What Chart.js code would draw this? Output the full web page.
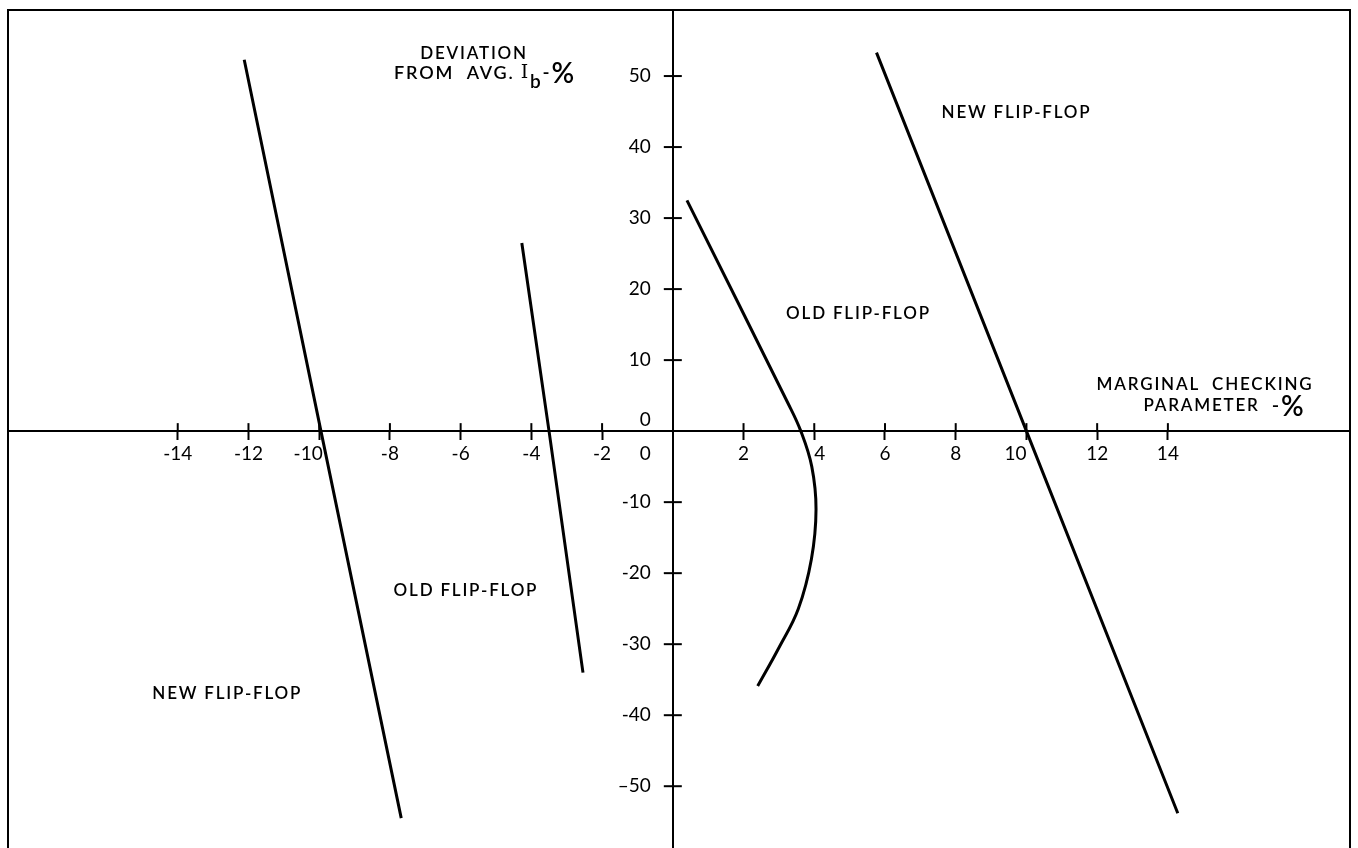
<!DOCTYPE html>
<html>
<head>
<meta charset="utf-8">
<script src="https://cdn.jsdelivr.net/npm/chart.js@4.4.1/dist/chart.umd.min.js"></script>
<style>
  html, body { margin: 0; padding: 0; background: #fff; }
  #wrap { width: 1358px; height: 848px; position: relative; }
</style>
</head>
<body>
<div id="wrap"><canvas id="myChart"></canvas></div>
<script>
// ticks on both axes
var xTicks = [-14, -12, -10, -8, -6, -4, -2, 0, 2, 4, 6, 8, 10, 12, 14];
var yTicks = [-50, -40, -30, -20, -10, 0, 10, 20, 30, 40, 50];

// curves: x = marginal checking parameter %, y = deviation from avg Ib %
var newLeftX = [-12.12, -9.95, -7.68];
var newLeftY = [52.3, 0, -54.5];
var oldLeftX = [-4.27, -3.5, -2.54];
var oldLeftY = [26.5, 0, -34];
var oldRightX = [0.4, 3.25, 3.62, 3.93, 4.05, 3.92, 3.55, 3.0, 2.4];
var oldRightY = [32.5, 4, 0, -5, -11, -18, -25, -30.5, -35.9];
var newRightX = [5.76, 10.0, 14.28];
var newRightY = [53.3, 0, -53.8];

var FONT = "Lato, 'Noto Sans', sans-serif";
var FS = "\u2007"; // figure space, used to nudge a few tick labels

function pts(xs, ys) {
  return xs.map(function (x, i) { return { x: x, y: ys[i] }; });
}
function curve(xs, ys, tension) {
  return {
    data: pts(xs, ys),
    showLine: true,
    borderColor: "#000",
    borderWidth: 3,
    pointRadius: 0,
    tension: tension,
    fill: false
  };
}
function noPad(s) {
  s.paddingTop = 0; s.paddingBottom = 0; s.paddingLeft = 0; s.paddingRight = 0;
}

// frame round the plot + the other half of each tick mark
var framePlugin = {
  id: "frame",
  afterDraw: function (chart) {
    var ctx = chart.ctx, a = chart.chartArea;
    var xs = chart.scales.x, ys = chart.scales.y;
    var x0 = xs.getPixelForValue(0), y0 = ys.getPixelForValue(0);
    ctx.save();
    ctx.strokeStyle = "#000";
    ctx.lineWidth = 2;
    ctx.beginPath();
    ctx.moveTo(a.left, a.bottom);
    ctx.lineTo(a.left, a.top);
    ctx.lineTo(a.right, a.top);
    ctx.lineTo(a.right, a.bottom);
    ctx.stroke();
    xTicks.forEach(function (v) {
      if (v === 0) return;
      var px = xs.getPixelForValue(v);
      ctx.beginPath(); ctx.moveTo(px, y0); ctx.lineTo(px, y0 - 8); ctx.stroke();
    });
    yTicks.forEach(function (v) {
      if (v === 0) return;
      var py = ys.getPixelForValue(v);
      ctx.beginPath(); ctx.moveTo(x0 - 9, py); ctx.lineTo(x0 + 9, py); ctx.stroke();
    });
    ctx.restore();
  }
};

// text notes, placed in data units
var notesPlugin = {
  id: "notes",
  afterDraw: function (chart, args, opts) {
    var ctx = chart.ctx, xs = chart.scales.x, ys = chart.scales.y;
    ctx.save();
    ctx.fillStyle = "#000";
    ctx.textBaseline = "middle";
    ctx.letterSpacing = "1.8px";
    opts.items.forEach(function (n) {
      var px = xs.getPixelForValue(n.x), py = ys.getPixelForValue(n.y);
      var parts = n.parts || [{ t: n.text }];
      var w = 0;
      parts.forEach(function (p) {
        ctx.font = (p.weight || 600) + " " + (p.size || 17) + "px " + (p.family || FONT);
        p.w = ctx.measureText(p.t).width;
        w += p.w;
      });
      var cx = px - w / 2;
      parts.forEach(function (p) {
        ctx.font = (p.weight || 600) + " " + (p.size || 17) + "px " + (p.family || FONT);
        ctx.textAlign = "left";
        ctx.fillText(p.t, cx, py + (p.dy || 0));
        cx += p.w;
      });
    });
    ctx.restore();
  }
};

new Chart("myChart", {
  type: "scatter",
  data: {
    datasets: [
      curve(newLeftX, newLeftY, 0),
      curve(oldLeftX, oldLeftY, 0),
      curve(oldRightX, oldRightY, 0.4),
      curve(newRightX, newRightY, 0)
    ]
  },
  options: {
    responsive: true,
    maintainAspectRatio: false,
    animation: false,
    layout: { padding: { left: 8, top: 10, right: 8, bottom: 0 } },
    plugins: {
      legend: { display: false },
      tooltip: { enabled: false },
      notes: {
        items: [
          { text: "DEVIATION", x: -5.62, y: 53.2 },
          { x: -5.31, y: 50.4, parts: [
            { t: "FROM  AVG. ", size: 18 },
            { t: "I", family: "'DejaVu Serif', serif", size: 19, weight: 400 },
            { t: "b", size: 19, dy: 9 },
            { t: "-", size: 19 },
            { t: "%", size: 28, dy: 1 }
          ] },
          { text: "NEW FLIP-FLOP", x: 9.72, y: 44.9 },
          { text: "OLD FLIP-FLOP", x: 5.25, y: 16.6 },
          { text: "MARGINAL  CHECKING", x: 15.05, y: 6.6 },
          { x: 15.6, y: 3.6, parts: [{ t: "PARAMETER  " }, { t: "-", size: 20 }, { t: "%", size: 28, dy: 1 }] },
          { text: "OLD FLIP-FLOP", x: -5.85, y: -22.4 },
          { text: "NEW FLIP-FLOP", x: -12.6, y: -37 }
        ]
      }
    },
    scales: {
      x: {
        type: "linear",
        min: -18.8,
        max: 19.15,
        position: { y: 0 },
        afterBuildTicks: function (s) { s.ticks = xTicks.map(function (v) { return { value: v }; }); },
        afterFit: noPad,
        grid: {
          drawOnChartArea: false,
          tickLength: 8,
          tickWidth: 2,
          tickColor: function (c) { return c.tick && c.tick.value === 0 ? "rgba(0,0,0,0)" : "#000"; }
        },
        border: { display: true, color: "#000", width: 2 },
        ticks: {
          color: "#000",
          padding: 3,
          autoSkip: false,
          maxRotation: 0,
          font: { family: FONT, size: 19 },
          callback: function (v) {
            if (v === 0) return "0" + FS.repeat(5);
            if (v === -10 || v === 10) return v + FS + FS;
            if (v === 4) return FS + v;
            return String(v);
          }
        }
      },
      y: {
        type: "linear",
        min: -58.7,
        max: 59.3,
        position: { x: 0 },
        afterBuildTicks: function (s) { s.ticks = yTicks.map(function (v) { return { value: v }; }); },
        afterFit: noPad,
        grid: {
          drawOnChartArea: false,
          drawTicks: false
        },
        border: { display: true, color: "#000", width: 2 },
        ticks: {
          color: "#000",
          autoSkip: false,
          font: { family: FONT, size: 19 },
          callback: function (v) {
            if (v === 0) return ["0" + FS + FS, ""];
            if (v === -50) return "\u201350" + FS + FS;
            return v + FS + FS;
          }
        }
      }
    }
  },
  plugins: [framePlugin, notesPlugin]
});
</script>
</body>
</html>
